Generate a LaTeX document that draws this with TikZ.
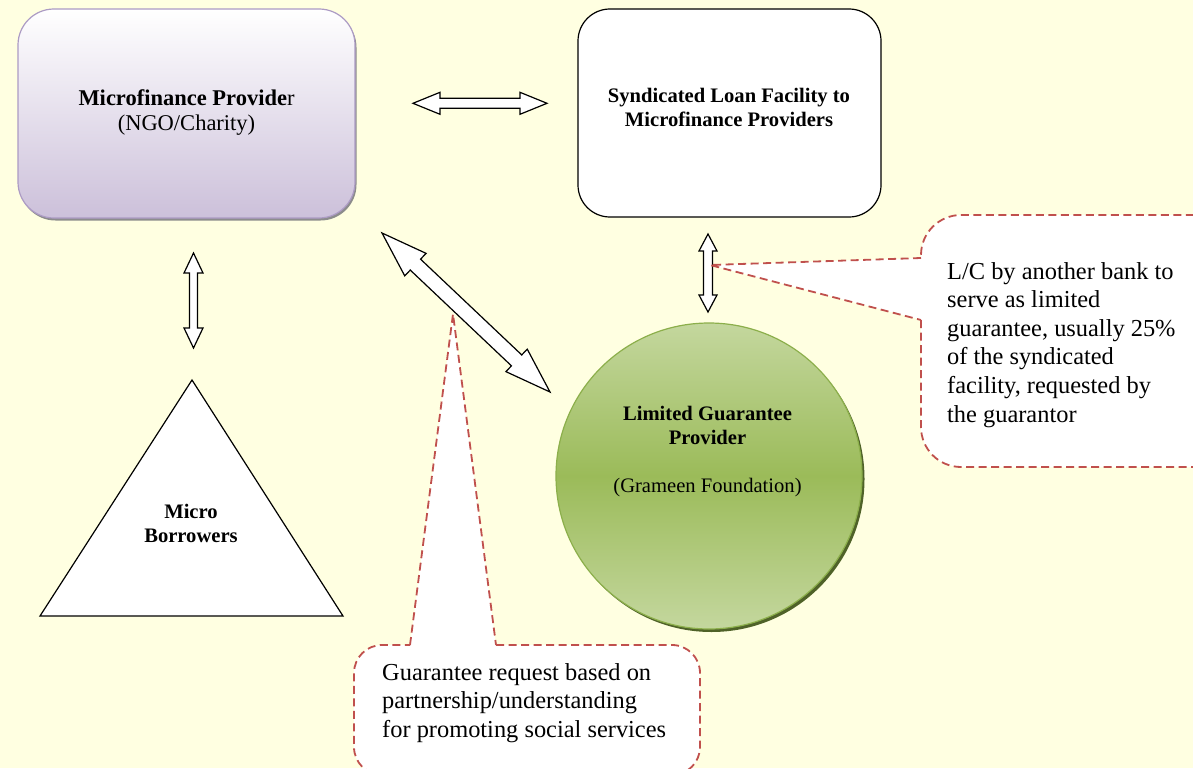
\documentclass[tikz,border=0pt]{standalone}
\usepackage{fontspec}
\setmainfont{Liberation Serif}
\usetikzlibrary{calc,shadows}

\definecolor{bgyellow}{RGB}{255,255,225}
\definecolor{lavender}{RGB}{204,192,218}
\definecolor{lavenderedge}{RGB}{172,155,196}
\definecolor{leafgreen}{RGB}{155,187,89}
\definecolor{leaflight}{RGB}{196,215,158}
\definecolor{leafedge}{RGB}{140,175,75}
\definecolor{leafshadow}{RGB}{79,98,40}
\definecolor{calloutred}{RGB}{192,80,77}

\tikzset{
  fatarrow/.style={draw=black, line width=1.2pt, fill=white, line join=miter},
  callout line/.style={draw=calloutred, line width=1.8pt, dash pattern=on 8pt off 4.5pt},
  boxtext/.style={inner sep=0pt, align=center},
  notetext/.style={inner sep=0pt, align=left, anchor=west,
    font=\fontsize{24.4}{28.6}\selectfont},
}

% hollow double-headed block arrow between two named points:
% #1,#2 end points, #3 head length, #4 head half-width, #5 shaft half-width
\newcommand{\fatarrow}[5]{%
  \coordinate (fa-p) at ($(#1)!#3!(#2)$);
  \coordinate (fa-q) at ($(#2)!#3!(#1)$);
  \draw[fatarrow] (#1) -- ($(fa-p)!#4!90:(#2)$) -- ($(fa-p)!#5!90:(#2)$)
    -- ($(fa-q)!#5!-90:(#1)$) -- ($(fa-q)!#4!-90:(#1)$) -- (#2)
    -- ($(fa-q)!#4!90:(#1)$) -- ($(fa-q)!#5!90:(#1)$)
    -- ($(fa-p)!#5!-90:(#2)$) -- ($(fa-p)!#4!-90:(#2)$) -- cycle;}

\begin{document}
\begin{tikzpicture}[x=1pt,y=-1pt]
\fill[bgyellow] (0,0) rectangle (1193,768);
\useasboundingbox (0,0) rectangle (1193,768);
\clip (0,0) rectangle (1193,768);

% Microfinance provider
\node[draw=lavenderedge, line width=1.2pt, rounded corners=36pt,
      minimum width=337pt, minimum height=209pt, top color=white, bottom color=lavender,
      drop shadow={shadow xshift=1.5pt, shadow yshift=-2.5pt, fill=black!45, opacity=1}]
      (mfp) at (186.5,113.5) {};
\node[boxtext, font=\fontsize{22.5}{25}\selectfont] (mfptext) at (186.5,112.3)
      {\textbf{Microfinance Provide}r\\(NGO/Charity)};

% Syndicated loan facility
\node[draw=black, line width=1.2pt, rounded corners=32pt, fill=white,
      minimum width=303pt, minimum height=208pt] (slf) at (729.5,113) {};
\node[boxtext, font=\bfseries\fontsize{20.6}{24}\selectfont] (slftext) at (729,107.9)
      {Syndicated Loan Facility to\\Microfinance Providers};

% Micro borrowers
\draw[line width=1.2pt, fill=white, line join=miter] (192,380) -- (343,616) -- (40,616) -- cycle;
\node[boxtext, font=\bfseries\fontsize{20.6}{24}\selectfont] (mb) at (191,523)
      {Micro\\Borrowers};

% Limited guarantee provider
\node[circle, draw=leafedge, line width=1.2pt, minimum size=306pt, inner sep=0pt,
      top color=leaflight, bottom color=leaflight, middle color=leafgreen,
      drop shadow={shadow xshift=2.5pt, shadow yshift=-3pt, fill=leafshadow, opacity=1}]
      (lgp) at (709,476) {};
\node[boxtext, font=\fontsize{20.6}{24}\selectfont] (lgptext) at (707.5,452)
      {\textbf{Limited Guarantee}\\\textbf{Provider}\\[24pt](Grameen Foundation)};

% block arrows
\coordinate (ar1a) at (413,103.3);
\coordinate (ar1b) at (547,103.3);
\fatarrow{ar1a}{ar1b}{27pt}{11pt}{5pt}
\coordinate (ar2a) at (193.5,253);
\coordinate (ar2b) at (193.5,348);
\fatarrow{ar2a}{ar2b}{20pt}{9.5pt}{4pt}
\coordinate (ar3a) at (708,234);
\coordinate (ar3b) at (708,312);
\fatarrow{ar3a}{ar3b}{17pt}{9pt}{4.5pt}
\coordinate (ar4a) at (382,233);
\coordinate (ar4b) at (550,392);
\fatarrow{ar4a}{ar4b}{46pt}{15.5pt}{7.5pt}

% note on the letter of credit
\coordinate (lctip) at (710,265);
\fill[white, rounded corners=40pt] (921,215) rectangle (1240,467);
\fill[white] (lctip) -- (922,258) -- (922,320) -- cycle;
\draw[callout line, rounded corners=40pt] (921,320) -- (921,467) -- (1240,467)
      -- (1240,215) -- (921,215) -- (921,258);
\draw[callout line] (921,258) -- (lctip) -- (921,320);
\node[notetext] (lcnote) at (947,344.7)
      {L/C by another bank to\\serve as limited\\guarantee, usually 25\%\\of the syndicated\\facility, requested by\\the guarantor};

% note on the guarantee request
\coordinate (grtip) at (453,314);
\fill[white, rounded corners=28pt] (354,645) rectangle (700,775);
\fill[white] (410,646) -- (grtip) -- (496,646) -- cycle;
\draw[callout line, rounded corners=28pt] (496,645) -- (700,645) -- (700,775)
      -- (354,775) -- (354,645) -- (410,645);
\draw[callout line] (410,645) -- (grtip) -- (496,645);
\node[notetext] (grnote) at (382,702.8)
      {Guarantee request based on\\partnership/understanding\\for promoting social services};
\end{tikzpicture}
\end{document}
